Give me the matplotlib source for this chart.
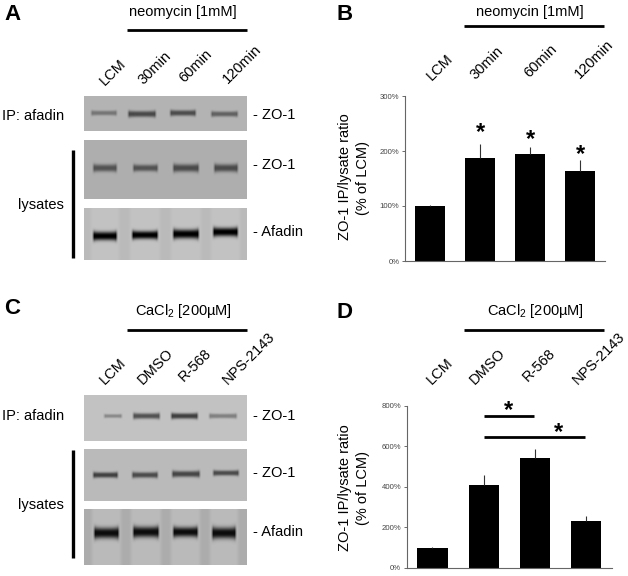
import numpy as np
import matplotlib
matplotlib.use("Agg")
import matplotlib.pyplot as plt
from matplotlib.lines import Line2D

plt.rcParams['font.family'] = ['Liberation Sans', 'DejaVu Sans']
plt.rcParams['mathtext.default'] = 'regular'

W, H = 628, 576
fig = plt.figure(figsize=(W / 100, H / 100), dpi=100, facecolor='white')

# ---------- data ----------
labels_b = ['LCM', '30min', '60min', '120min']
values_b = [100, 188, 195, 163]
errors_b = [1, 25, 13, 20]
ticks_b = [0, 100, 200, 300]

labels_d = ['LCM', 'DMSO', 'R-568', 'NPS-2143']
values_d = [100, 410, 542, 232]
errors_d = [3, 47, 46, 22]
ticks_d = [0, 200, 400, 600, 800]

# blot bands: (x0, x1, y, half-thickness, darkness)
blot_a1 = [(90, 118, 113, 2.4, .36), (127, 157, 114, 3.0, .62), (169, 197, 113, 2.8, .60), (210, 239, 114, 2.6, .48)]
blot_a2 = [(92, 118, 168, 3.6, .55), (132, 159, 168, 3.3, .55), (172, 200, 168, 3.8, .60), (213, 239, 168, 3.8, .60)]
blot_a3 = [(92, 118, 236, 4.2, 1.05), (131, 159, 235, 3.9, 1.05), (172, 200, 234, 4.4, 1.05), (212, 239, 232, 4.2, 1.05)]
blot_c1 = [(103, 123, 416, 1.9, .30), (132, 161, 416, 2.8, .60), (170, 199, 416, 2.8, .70), (208, 238, 416, 2.3, .35)]
blot_c2 = [(92, 119, 475, 2.7, .68), (131, 159, 475, 2.8, .62), (171, 201, 474, 3.0, .65), (212, 240, 473, 2.6, .62)]
blot_c3 = [(93, 120, 533, 5.2, .98), (132, 160, 532, 5.2, .98), (172, 199, 532, 4.8, .98), (211, 237, 533, 5.4, .98)]

# ---------- helpers in reference pixels ----------
overlay = fig.add_axes([0, 0, 1, 1], zorder=5)
overlay.set_xlim(0, W)
overlay.set_ylim(H, 0)
overlay.axis('off')


def txt(x, y, s, size=10.5, **kw):
    kw.setdefault('ha', 'center')
    kw.setdefault('va', 'center')
    overlay.text(x, y, s, fontsize=size, **kw)


def hline(x0, x1, y, lw=2.0):
    overlay.add_line(Line2D([x0, x1], [y, y], color='black', lw=lw, solid_capstyle='butt'))


def vline(x, y0, y1, lw=2.4):
    overlay.add_line(Line2D([x, x], [y0, y1], color='black', lw=lw, solid_capstyle='butt'))


def blot(x0, x1, y0, y1, bands, base=176, lane=0):
    nx, ny = int(x1 - x0), int(y1 - y0)
    xs = np.arange(nx) + x0 + .5
    ys = np.arange(ny) + y0 + .5
    X, Y = np.meshgrid(xs, ys)
    img = np.full(X.shape, float(base))
    for bx0, bx1, by, ht, dark in bands:
        prof_x = np.clip((X - bx0) / 2.5, 0, 1) * np.clip((bx1 - X) / 2.5, 0, 1)
        lane_x = np.clip((X - bx0 + 3) / 4, 0, 1) * np.clip((bx1 + 3 - X) / 4, 0, 1)
        img += lane * lane_x
        # bands swell a little towards their two ends
        mid, half = (bx0 + bx1) / 2, (bx1 - bx0) / 2
        flare = 1 + 0.3 * (np.abs(X - mid) / half) ** 4
        prof_y = np.exp(-np.abs((Y - by) / (ht * flare)) ** 2.4)
        img -= (base + lane - 8) * dark * prof_x * prof_y
    img = np.clip(img, 0, 255)
    overlay.imshow(img, cmap='gray', vmin=0, vmax=255, extent=(x0, x1, y1, y0),
                   aspect='auto', interpolation='bicubic', zorder=1)
    overlay.set_xlim(0, W)
    overlay.set_ylim(H, 0)


def rot_labels(labels, xs, ys, size=10.5):
    for s, x, y in zip(labels, xs, ys):
        txt(x, y, s, size=size, rotation=45, rotation_mode='anchor', ha='left', va='baseline')


def bar_panel(x0, x1, y_top, y_bottom, values, errors, ticks):
    ax = fig.add_axes([x0 / W, 1 - y_bottom / H, (x1 - x0) / W, (y_bottom - y_top) / H])
    pos = np.arange(len(values))
    ax.bar(pos, values, width=0.59, color='black')
    ax.errorbar(pos, values, yerr=[np.zeros(len(errors)), errors], fmt='none',
                ecolor='#333333', elinewidth=0.8, capsize=0)
    ax.set_xlim(-0.5, len(values) - 0.5)
    ax.set_ylim(ticks[0], ticks[-1])
    ax.set_yticks(ticks)
    ax.set_yticklabels([f'{t}%' for t in ticks], fontsize=5.6, color='#444444')
    ax.set_xticks([])
    ax.tick_params(axis='y', length=2.5, width=0.6, color='#555555', pad=1.5)
    for s in ('top', 'right'):
        ax.spines[s].set_visible(False)
    for s in ('left', 'bottom'):
        ax.spines[s].set_color('#666666')
        ax.spines[s].set_linewidth(0.8)
    return ax


# ---------- panel A ----------
txt(4, 14, 'A', size=16, fontweight='bold', ha='left')
txt(183, 12, 'neomycin [1mM]')
hline(127, 247, 30)
rot_labels(labels_b, [105, 143, 184, 228], [86, 85, 83, 84])
blot(84, 247, 96, 131, blot_a1, base=180)
blot(84, 247, 140, 199, blot_a2, base=174)
blot(84, 247, 208, 260, blot_a3, base=186, lane=8)
txt(64, 116, 'IP: afadin', ha='right')
txt(64, 205, 'lysates', ha='right')
vline(73, 150, 258)
txt(253, 115, '- ZO-1', ha='left')
txt(253, 165, '- ZO-1', ha='left')
txt(253, 232, '- Afadin', ha='left')

# ---------- panel B ----------
txt(337, 14, 'B', size=16, fontweight='bold', ha='left')
txt(530, 12, 'neomycin [1mM]')
hline(464, 604, 26)
rot_labels(labels_b, [432, 475, 529, 580], [81, 80, 78, 79])
bar_panel(405, 605, 96, 261, values_b, errors_b, ticks_b)
txt(345, 177, 'ZO-1 IP/lysate ratio', rotation=90)
txt(363, 178, '(% of LCM)', rotation=90)
for x, y in [(480.5, 133), (530.5, 140), (580, 155)]:
    txt(x, y, '*', size=17, fontweight='bold')

# ---------- panel C ----------
txt(4, 309, 'C', size=16, fontweight='bold', ha='left')
txt(183, 311, 'CaCl$_2$ [200µM]')
hline(127, 247, 330)
rot_labels(labels_d, [105, 143, 184, 228], [385, 385, 382, 385])
blot(84, 247, 395, 441, blot_c1, base=194)
blot(84, 247, 449, 501, blot_c2, base=186)
blot(84, 247, 509, 565, blot_c3, base=172, lane=14)
txt(64, 416, 'IP: afadin', ha='right')
txt(64, 505, 'lysates', ha='right')
vline(73, 450, 558)
txt(253, 416, '- ZO-1', ha='left')
txt(253, 473, '- ZO-1', ha='left')
txt(253, 532, '- Afadin', ha='left')

# ---------- panel D ----------
txt(337, 313, 'D', size=16, fontweight='bold', ha='left')
txt(535, 311, 'CaCl$_2$ [200µM]')
hline(464, 604, 330)
rot_labels(labels_d, [432, 475, 528, 578], [385, 385, 382, 385])
bar_panel(406.8, 612, 405.7, 568, values_d, errors_d, ticks_d)
txt(345, 488, 'ZO-1 IP/lysate ratio', rotation=90)
txt(363, 488, '(% of LCM)', rotation=90)
hline(484.3, 534, 416)
hline(484.3, 584.7, 437)
txt(508.7, 411, '*', size=17, fontweight='bold')
txt(558, 433, '*', size=17, fontweight='bold')

fig.savefig('out.png', dpi=100)
